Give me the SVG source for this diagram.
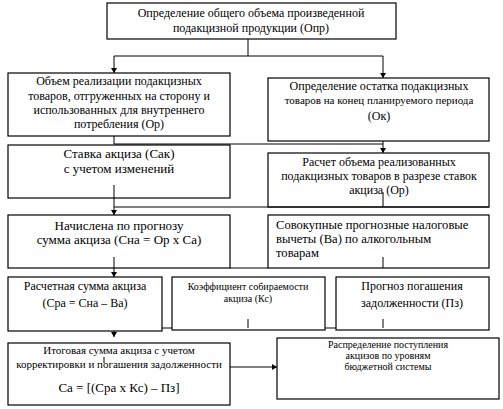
<svg xmlns="http://www.w3.org/2000/svg" width="503" height="409" viewBox="0 0 503 409">
<style>
.box{fill:#fff;stroke:#000;stroke-width:1.2}
.ln{fill:none;stroke:#000;stroke-width:1}
text{font-family:"Liberation Serif","Times New Roman","DejaVu Serif",serif;fill:#000}
.t12{font-size:12px}
.t11{font-size:11px}
.t13{font-size:13px}
.t10{font-size:10px}
.c{text-anchor:middle}
</style>
<defs>
<marker id="ah" markerUnits="userSpaceOnUse" markerWidth="7" markerHeight="7" refX="5" refY="3" orient="auto">
<path d="M0,0 L5,3 L0,6 Z" fill="#000"/>
</marker>
</defs>
<rect width="503" height="409" fill="#fff"/>
<g id="n1">
<rect class="box" x="107" y="3" width="289" height="36"/>
<text class="t12 c" x="251" y="17">Определение общего объема произведенной</text>
<text class="t12 c" x="251" y="32">подакцизной продукции (Опр)</text>
</g>
<g id="n2">
<rect class="box" x="8" y="73" width="222" height="63"/>
<text class="t12 c" x="119" y="85">Объем реализации подакцизных</text>
<text class="t12 c" x="119" y="100">товаров, отгруженных на сторону и</text>
<text class="t12 c" x="119" y="114">использованных для внутреннего</text>
<text class="t12 c" x="119" y="128">потребления (Ор)</text>
</g>
<g id="n3">
<rect class="box" x="268" y="78" width="221" height="63"/>
<text class="t12 c" x="379" y="90">Определение остатка подакцизных</text>
<text class="t11 c" x="379" y="104">товаров на конец планируемого периода</text>
<text class="t12 c" x="379" y="120">(Ок)</text>
</g>
<g id="n4">
<rect class="box" x="8" y="145" width="222" height="53"/>
<text class="t13 c" x="119" y="158">Ставка акциза (Сак)</text>
<text class="t13 c" x="119" y="173">с учетом изменений</text>
</g>
<g id="n5">
<rect class="box" x="268" y="153" width="221" height="54"/>
<text class="t12 c" x="379" y="166">Расчет объема реализованных</text>
<text class="t12 c" x="379" y="180">подакцизных товаров в разрезе ставок</text>
<text class="t12 c" x="379" y="194">акциза (Ор)</text>
</g>
<g id="n6">
<rect class="box" x="8" y="215" width="222" height="53"/>
<text class="t13 c" x="119" y="230">Начислена по прогнозу</text>
<text class="t13 c" x="119" y="244">сумма акциза (Сна = Ор х Са)</text>
</g>
<g id="n7">
<rect class="box" x="268" y="215" width="221" height="53"/>
<text x="276" y="229" font-size="12.6">Совокупные прогнозные налоговые</text>
<text x="276" y="243" font-size="12.6">вычеты (Ва) по алкогольным</text>
<text x="276" y="257" font-size="12.6">товарам</text>
</g>
<g id="n8">
<rect class="box" x="8" y="277" width="154" height="54"/>
<text class="t12 c" x="85" y="290">Расчетная сумма акциза</text>
<text class="t12 c" x="85" y="307">(Сра = Сна – Ва)</text>
</g>
<g id="n9">
<rect class="box" x="172" y="277" width="153" height="53"/>
<text class="t10 c" x="248" y="290">Коэффициент собираемости</text>
<text class="t10 c" x="248" y="302">акциза (Кс)</text>
</g>
<g id="n10">
<rect class="box" x="336" y="277" width="153" height="53"/>
<text class="t12 c" x="412" y="290">Прогноз погашения</text>
<text class="t12 c" x="412" y="307">задолженности (Пз)</text>
</g>
<g id="n11">
<rect class="box" x="8" y="343" width="222" height="62"/>
<text class="t11 c" x="119" y="354">Итоговая сумма акциза с учетом</text>
<text class="t11 c" x="119" y="368">корректировки и погашения задолженности</text>
<text class="t13 c" x="119" y="392">Са = [(Сра х Кс) – Пз]</text>
</g>
<g id="n12">
<rect class="box" x="277" y="338" width="222" height="61"/>
<text class="t10 c" x="388" y="348">Распределение  поступления</text>
<text class="t10 c" x="388" y="359">акцизов по уровням</text>
<text class="t10 c" x="388" y="370">бюджетной системы</text>
</g>
<g id="connectors">
<path class="ln" d="M248,39 V56 M114,56 H383"/>
<path class="ln" d="M114,56 V73" marker-end="url(#ah)"/>
<path class="ln" d="M383,56 V78" marker-end="url(#ah)"/>
<path class="ln" d="M114,136 V144 H383"/>
<path class="ln" d="M383,141 V153" marker-end="url(#ah)"/>
<path class="ln" d="M114,185 V215" marker-end="url(#ah)"/>
<path class="ln" d="M114,207 H489 M383,192 V207"/>
<path class="ln" d="M230,268 H268 M383,257 V268"/>
<path class="ln" d="M114,257 V277" marker-end="url(#ah)"/>
<path class="ln" d="M162,328 H172 M325,328 H336 M248,319 V328 M383,319 V328"/>
<path class="ln" d="M114,331 V337" marker-end="url(#ah)"/>
<path class="ln" d="M104,357 V363"/>
<path class="ln" d="M230,367 H277" marker-end="url(#ah)"/>
</g>
</svg>
